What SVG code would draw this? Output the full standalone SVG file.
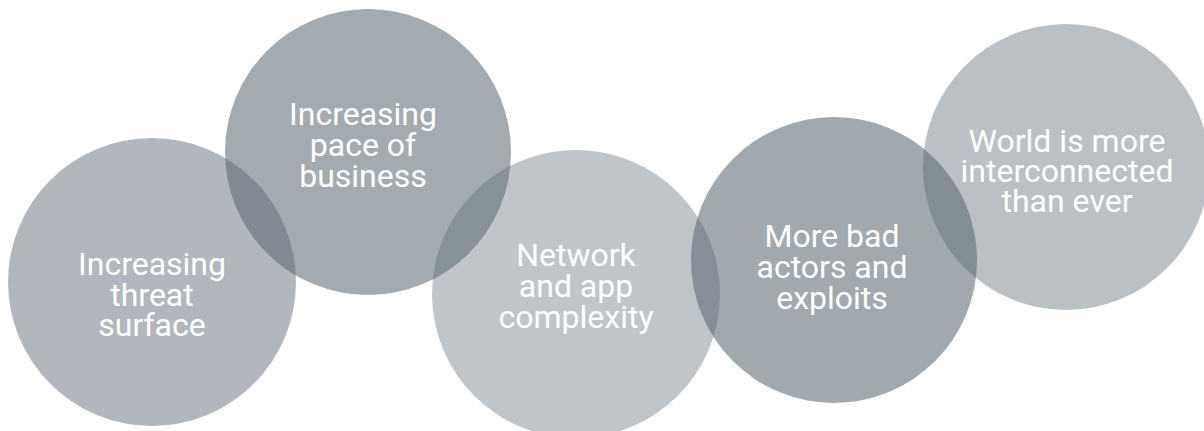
<svg xmlns="http://www.w3.org/2000/svg" width="1204" height="431" viewBox="0 0 1204 431">
  <style>
    .bubble { fill: #5a6670; }
    .label { font-family: Roboto, "Liberation Sans", sans-serif; font-size: 32px; font-weight: 400; fill: #ffffff; text-anchor: middle; }
  </style>
  <rect width="1204" height="431" fill="#ffffff"/>

  <g id="threat-surface">
    <circle class="bubble" cx="152" cy="282" r="144" fill-opacity="0.47"/>
    <text class="label"><tspan x="152" y="275">Increasing</tspan><tspan x="152" y="306">threat</tspan><tspan x="152" y="336">surface</tspan></text>
  </g>

  <g id="pace-of-business">
    <circle class="bubble" cx="368" cy="152" r="143" fill-opacity="0.55"/>
    <text class="label"><tspan x="363" y="125">Increasing</tspan><tspan x="363" y="156">pace of</tspan><tspan x="363" y="187">business</tspan></text>
  </g>

  <g id="network-complexity">
    <circle class="bubble" cx="576" cy="294" r="144" fill-opacity="0.38"/>
    <text class="label"><tspan x="576" y="266">Network</tspan><tspan x="576" y="297">and app</tspan><tspan x="576" y="328">complexity</tspan></text>
  </g>

  <g id="bad-actors">
    <circle class="bubble" cx="834" cy="260" r="143" fill-opacity="0.57"/>
    <text class="label"><tspan x="832" y="247">More bad</tspan><tspan x="832" y="278">actors and</tspan><tspan x="832" y="309">exploits</tspan></text>
  </g>

  <g id="interconnected">
    <circle class="bubble" cx="1066" cy="167" r="143" fill-opacity="0.41"/>
    <text class="label"><tspan x="1067" y="152">World is more</tspan><tspan x="1067" y="182">interconnected</tspan><tspan x="1067" y="212">than ever</tspan></text>
  </g>

  <g id="connectors"/>
</svg>
